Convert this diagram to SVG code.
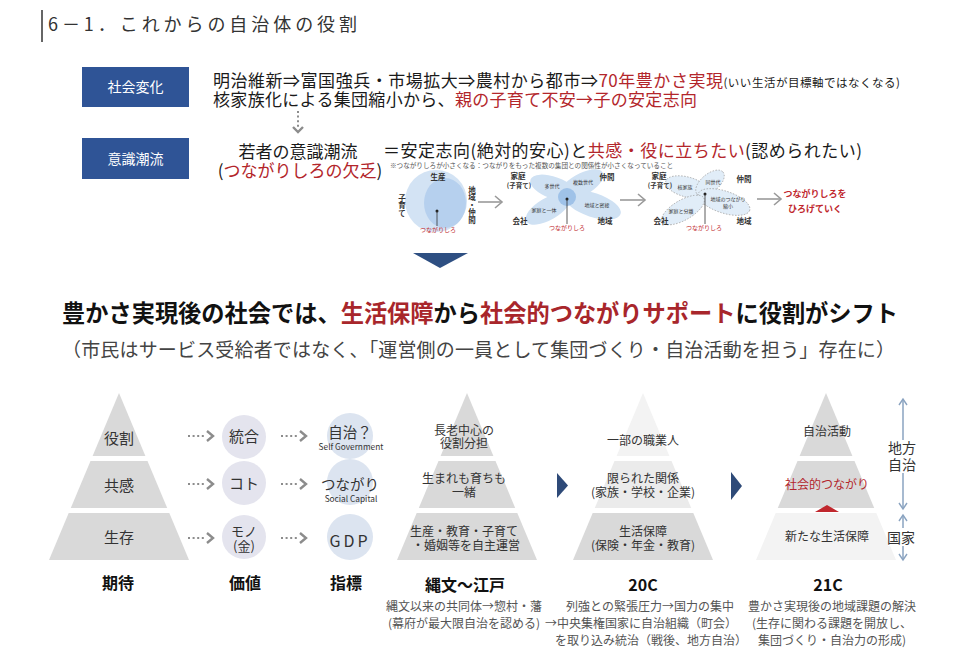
<svg xmlns="http://www.w3.org/2000/svg" width="960" height="661" viewBox="0 0 960 661">
<style>
text{font-family:"Noto Sans CJK JP","Noto Sans",sans-serif;}
.t17{font-size:17px;fill:#1a1a1a;}
.red{fill:#b3262b;}
.box{fill:#2f5496;}
.boxt{font-size:14px;fill:#fff;text-anchor:middle;}
.c{text-anchor:middle;}
.pl{font-size:15px;fill:#333;text-anchor:middle;}
.pm{font-size:12px;fill:#333;text-anchor:middle;}
.desc{font-size:12px;fill:#555;text-anchor:middle;}
.ttl{font-size:16px;font-weight:bold;fill:#111;text-anchor:middle;}
.g1{fill:#d9d9d9;}.g2{fill:#ebebeb;}.g3{fill:#f3f3f3;}
.cv{fill:#e4e4ee;}.ci{fill:#dce4f0;}
.dash{stroke:#8c8c8c;stroke-width:2;stroke-dasharray:2 2.6;fill:none;}
.chev{stroke:#8c8c8c;stroke-width:2.4;fill:none;}
.tiny{font-size:7.5px;font-weight:bold;fill:#333;}
.tred{font-size:6px;fill:#c0272d;text-anchor:middle;}
.sarr{stroke:#9a9a9a;stroke-width:1.6;fill:none;}
.navy{fill:#2e4a78;}
.vax{stroke:#8aa3c0;stroke-width:1.5;fill:none;}
</style>
<defs>
<polygon id="b1" points="0,393 26.4,456 -26.4,456"/>
<polygon id="b2" points="-28.5,461 28.5,461 48.2,508 -48.2,508"/>
<polygon id="b3" points="-50.3,513 50.3,513 70,560 -70,560"/>
<marker id="ah" markerWidth="10" markerHeight="10" refX="8" refY="5" orient="auto-start-reverse" markerUnits="userSpaceOnUse">
<path d="M2,1 L8,5 L2,9" fill="none" stroke="#8aa3c0" stroke-width="1.4"/>
</marker>
</defs>
<rect width="960" height="661" fill="#fff"/>

<g id="title">
<line x1="42" y1="10" x2="42" y2="42" stroke="#333" stroke-width="1.5"/>
<text x="48" y="31" font-size="18" fill="#333" textLength="309" lengthAdjust="spacing">6－1．これからの自治体の役割</text>
</g>

<g id="box-shakai">
<rect class="box" x="82" y="67" width="107" height="40"/>
<text class="boxt" x="135.5" y="92">社会変化</text>
</g>
<g id="box-ishiki">
<rect class="box" x="82" y="138" width="107" height="41"/>
<text class="boxt" x="135.5" y="164">意識潮流</text>
</g>

<g id="line1">
<text class="t17" x="213" y="87" textLength="687" lengthAdjust="spacing">明治維新⇒富国強兵・市場拡大⇒農村から都市⇒<tspan class="red">70年豊かさ実現</tspan><tspan font-size="11.5">(いい生活が目標軸ではなくなる)</tspan></text>
<text class="t17" x="213" y="106" textLength="484" lengthAdjust="spacing">核家族化による集団縮小から、<tspan class="red">親の子育て不安→子の安定志向</tspan></text>
</g>

<g id="wakamono">
<text class="t17 c" x="298" y="158" font-size="17.5">若者の意識潮流</text>
<text class="t17 c" x="300" y="177" font-size="17.5">(<tspan class="red">つながりしろの欠乏</tspan>)</text>
<text class="t17" x="383" y="157" font-size="17.5" textLength="479" lengthAdjust="spacing">＝安定志向(絶対的安心)と<tspan class="red">共感・役に立ちたい</tspan>(認められたい)</text>
<text x="390" y="168" font-size="6.6" fill="#555">※つながりしろが小さくなる：つながりをもった複数の集団との関係性が小さくなっていること</text>
</g>

<g id="diagram1">
<circle cx="436" cy="201" r="31" fill="#d3e3f4"/>
<ellipse cx="445" cy="203" rx="21" ry="25" fill="#b6d0ee"/>
<text class="tiny c" x="438" y="180">生産</text>
<text class="tiny" x="402" y="194" style="writing-mode:vertical-rl">子育て</text>
<text class="tiny" x="472" y="186" style="writing-mode:vertical-rl">地域・仲間</text>
<circle cx="437" cy="211" r="1.5" fill="#222"/>
<line x1="437" y1="211" x2="437" y2="226" stroke="#333" stroke-width="0.8"/>
<text class="tred" x="438" y="232">つながりしろ</text>
</g>

<g id="diagram2">
<ellipse cx="554" cy="188" rx="25" ry="11" transform="rotate(20 554 188)" fill="#cfe1f3"/>
<ellipse cx="581" cy="185" rx="25" ry="11" transform="rotate(-30 581 185)" fill="#cfe1f3"/>
<ellipse cx="593" cy="205" rx="29" ry="12" transform="rotate(18 593 205)" fill="#cfe1f3"/>
<ellipse cx="548" cy="209" rx="25" ry="11" transform="rotate(-30 548 209)" fill="#cfe1f3"/>
<circle cx="567" cy="197" r="9" fill="#9fc2e8"/>
<text class="tiny c" x="518" y="179">家庭</text>
<text class="c" x="519" y="188" font-size="6.5" font-weight="bold" fill="#333">(子育て)</text>
<text class="tiny c" x="607" y="180">仲間</text>
<text class="tiny c" x="520" y="224">会社</text>
<text class="tiny c" x="605" y="224">地域</text>
<text class="c" x="552" y="188" font-size="5" fill="#333">多世代</text>
<text class="c" x="583" y="184" font-size="5" fill="#333">複数世代</text>
<text class="c" x="597" y="207" font-size="5" fill="#333">地域と密接</text>
<text class="c" x="544" y="212" font-size="5" fill="#333">家庭と一体</text>
<circle cx="567" cy="199" r="1.5" fill="#222"/>
<line x1="567" y1="199" x2="567" y2="224" stroke="#333" stroke-width="0.8"/>
<text class="tred" x="567" y="230">つながりしろ</text>
</g>

<g id="diagram3">
<ellipse cx="687" cy="187" rx="22" ry="10" transform="rotate(15 687 187)" fill="#e1edf8" stroke="#999" stroke-width="0.7" stroke-dasharray="1.5 1.5"/>
<ellipse cx="710" cy="183" rx="17" ry="9" transform="rotate(-40 710 183)" fill="#e1edf8" stroke="#999" stroke-width="0.7" stroke-dasharray="1.5 1.5"/>
<ellipse cx="724" cy="202" rx="27" ry="11" transform="rotate(18 724 202)" fill="#e1edf8" stroke="#999" stroke-width="0.7" stroke-dasharray="1.5 1.5"/>
<ellipse cx="683" cy="210" rx="24" ry="10" transform="rotate(-30 683 210)" fill="#e1edf8" stroke="#999" stroke-width="0.7" stroke-dasharray="1.5 1.5"/>
<text class="tiny c" x="659" y="179">家庭</text>
<text class="c" x="660" y="188" font-size="6.5" font-weight="bold" fill="#333">(子育て)</text>
<text class="tiny c" x="744" y="182">仲間</text>
<text class="tiny c" x="661" y="224">会社</text>
<text class="tiny c" x="744" y="224">地域</text>
<text class="c" x="685" y="189" font-size="5" fill="#333">核家族</text>
<text class="c" x="713" y="184" font-size="5" fill="#333">同世代</text>
<text class="c" x="728" y="201" font-size="5" fill="#333">地域のつながり</text>
<text class="c" x="728" y="208" font-size="5" fill="#333">縮小</text>
<text class="c" x="681" y="213" font-size="5" fill="#333">家庭と分離</text>
<circle cx="705" cy="194" r="1.5" fill="#222"/>
<line x1="705" y1="194" x2="705" y2="224" stroke="#333" stroke-width="0.8"/>
<text class="tred" x="704" y="230">つながりしろ</text>
</g>

<g id="hirogeru">
<text x="815" y="197" font-size="9" font-weight="bold" fill="#c0272d" class="c">つながりしろを</text>
<text x="815" y="212" font-size="9" font-weight="bold" fill="#c0272d" class="c">ひろげていく</text>
</g>

<g id="headline">
<text x="62" y="322" font-size="23.5" font-weight="bold" fill="#111" textLength="836" lengthAdjust="spacingAndGlyphs">豊かさ実現後の社会では、<tspan fill="#a8262b">生活保障</tspan>から<tspan fill="#a8262b">社会的つながりサポート</tspan>に役割がシフト</text>
<text x="62" y="357" font-size="19" fill="#444" textLength="833" lengthAdjust="spacing">（市民はサービス受給者ではなく、「運営側の一員として集団づくり・自治活動を担う」存在に）</text>
</g>

<g id="pyramid-kitai">
<g transform="translate(119,0)" class="g1"><use href="#b1"/><use href="#b2"/><use href="#b3"/></g>
<text class="pl" x="119" y="444">役割</text>
<text class="pl" x="119" y="491">共感</text>
<text class="pl" x="119" y="543">生存</text>
<text class="ttl" x="118" y="589">期待</text>
</g>

<g id="kachi">
<circle class="cv" cx="244" cy="437" r="22"/>
<circle class="cv" cx="244" cy="483" r="22"/>
<circle class="cv" cx="244" cy="537" r="22"/>
<text class="c" x="244" y="442" font-size="15" fill="#333">統合</text>
<text class="c" x="244" y="489" font-size="15" fill="#333">コト</text>
<text class="c" x="244" y="536" font-size="13" fill="#333">モノ</text>
<text class="c" x="244" y="551" font-size="13" fill="#333">(金)</text>
<text class="ttl" x="245" y="589">価値</text>
</g>

<g id="shihyo">
<circle class="ci" cx="350" cy="436" r="23"/>
<circle class="ci" cx="350" cy="482" r="23"/>
<circle class="ci" cx="350" cy="537" r="23"/>
<text class="c" x="350" y="438" font-size="14.5" fill="#333">自治？</text>
<text class="c" x="351" y="450" font-size="8.3" fill="#333" font-family="Noto Sans,sans-serif">Self Government</text>
<text class="c" x="350" y="490" font-size="14.5" fill="#333">つながり</text>
<text class="c" x="351" y="502" font-size="8.3" fill="#333" font-family="Noto Sans,sans-serif">Social Capital</text>
<text class="c" x="350" y="547" font-size="16" fill="#333" letter-spacing="3" font-family="Noto Sans,sans-serif">GDP</text>
<text class="ttl" x="346" y="589">指標</text>
</g>

<g id="pyramid-jomon">
<g transform="translate(467,0)" class="g1"><use href="#b1"/><use href="#b2"/><use href="#b3"/></g>
<text class="pm" x="464" y="435">長老中心の</text>
<text class="pm" x="464" y="448">役割分担</text>
<text class="pm" x="464" y="483">生まれも育ちも</text>
<text class="pm" x="464" y="497">一緒</text>
<text class="pm" x="464" y="536">生産・教育・子育て</text>
<text class="pm" x="466" y="550">・婚姻等を自主運営</text>
<text class="ttl" x="465" y="591">縄文～江戸</text>
<text class="desc" x="464" y="611">縄文以来の共同体→惣村・藩</text>
<text class="desc" x="464" y="628">(幕府が最大限自治を認める)</text>
</g>

<g id="pyramid-20c">
<use href="#b1" x="643" class="g3"/><use href="#b2" x="643" class="g2"/><use href="#b3" x="643" class="g1"/>
<text class="pm" x="643" y="445">一部の職業人</text>
<text class="pm" x="643" y="483">限られた関係</text>
<text class="pm" x="643" y="497">(家族・学校・企業)</text>
<text class="pm" x="643" y="536">生活保障</text>
<text class="pm" x="643" y="550">(保険・年金・教育)</text>
<text class="ttl" x="643" y="591">20C</text>
<text class="desc" x="650" y="611">列強との緊張圧力→国力の集中</text>
<text class="desc" x="641" y="628">→中央集権国家に自治組織（町会）</text>
<text class="desc" x="651" y="645">を取り込み統治（戦後、地方自治）</text>
</g>

<g id="pyramid-21c">
<use href="#b1" x="826" class="g1"/><use href="#b2" x="826" class="g1"/><use href="#b3" x="826" class="g3"/>
<polygon points="815,512 839,512 827,505" fill="#c0272d"/>
<text class="pm" x="827" y="436">自治活動</text>
<text class="pm" x="827" y="489" style="fill:#b3262b">社会的つながり</text>
<text class="pm" x="827" y="541">新たな生活保障</text>
<text class="ttl" x="828" y="591">21C</text>
<text class="desc" x="832" y="611">豊かさ実現後の地域課題の解決</text>
<text class="desc" x="832" y="628">(生存に関わる課題を開放し、</text>
<text class="desc" x="832" y="645">集団づくり・自治力の形成)</text>
</g>

<g id="scale">
<line class="vax" x1="903" y1="399" x2="903" y2="509" marker-start="url(#ah)" marker-end="url(#ah)"/>
<line class="vax" x1="903" y1="515" x2="903" y2="560" marker-start="url(#ah)" marker-end="url(#ah)"/>
<rect x="890" y="440" width="24" height="33" fill="#fff"/>
<text x="902" y="453" font-size="14" fill="#333" class="c">地方</text>
<text x="902" y="470" font-size="14" fill="#333" class="c">自治</text>
<rect x="888" y="528" width="26" height="18" fill="#fff"/>
<text x="901" y="543" font-size="14" fill="#333" class="c">国家</text>
</g>

<g id="connectors">
<line class="dash" x1="298" y1="111" x2="298" y2="127"/>
<polyline class="chev" points="293,127 298,132 303,127" stroke-width="1.8"/>
<line class="sarr" x1="478" y1="202" x2="502" y2="202"/>
<polyline class="sarr" points="495,196 502,202 495,208"/>
<line class="sarr" x1="620" y1="200" x2="645" y2="200"/>
<polyline class="sarr" points="638,194 645,200 638,206"/>
<line class="sarr" x1="757" y1="199" x2="781" y2="199"/>
<polyline class="sarr" points="774,193 781,199 774,205"/>
<polygon points="413,253 468,253 440,268" fill="#2e4f82"/>
<line class="dash" x1="188" y1="436" x2="205" y2="436"/>
<polyline class="chev" points="207,431 213,436 207,441"/>
<line class="dash" x1="188" y1="484" x2="205" y2="484"/>
<polyline class="chev" points="207,479 213,484 207,489"/>
<line class="dash" x1="188" y1="538" x2="205" y2="538"/>
<polyline class="chev" points="207,533 213,538 207,543"/>
<line class="dash" x1="281" y1="436" x2="298" y2="436"/>
<polyline class="chev" points="300,431 306,436 300,441"/>
<line class="dash" x1="281" y1="484" x2="298" y2="484"/>
<polyline class="chev" points="300,479 306,484 300,489"/>
<line class="dash" x1="281" y1="538" x2="298" y2="538"/>
<polyline class="chev" points="300,533 306,538 300,543"/>
<polygon class="navy" points="557,473 568,485.5 557,498"/>
<polygon class="navy" points="731,472 742,486 731,500"/>
</g>
</svg>
